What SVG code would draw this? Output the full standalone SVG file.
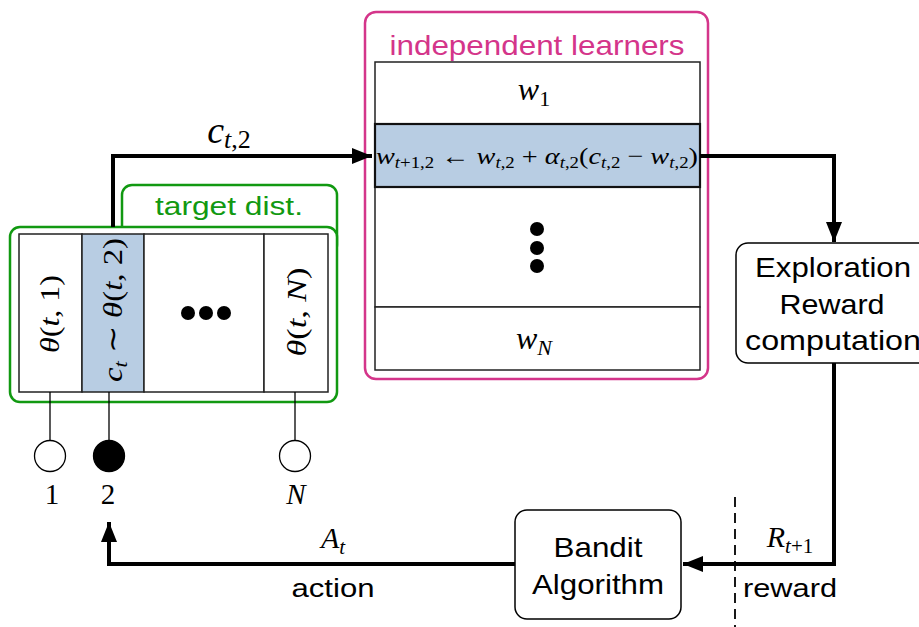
<svg xmlns="http://www.w3.org/2000/svg" width="919" height="627" viewBox="0 0 919 627">
<style>
.sans{font-family:"Liberation Sans",Arial,Helvetica,sans-serif;fill:#000}
.math{font-family:"Liberation Serif","Times New Roman",serif;font-style:italic;fill:#000}
.rm{font-style:normal}
.cell{fill:#fff;stroke:#222;stroke-width:1.5}
.sel{fill:#b8cde3;stroke:#222;stroke-width:1.5}
.conn{fill:none;stroke:#000;stroke-width:4}
.thin{fill:none;stroke:#000;stroke-width:1.3}
.box{fill:#fff;stroke:#000;stroke-width:1.5}
</style>
<defs>
<marker id="ah" markerUnits="userSpaceOnUse" markerWidth="22" markerHeight="18" refX="20" refY="8" orient="auto">
<path d="M0,0 L20,8 L0,16 Z" fill="#000"/>
</marker>
</defs>
<rect width="919" height="627" fill="#fff"/>

<g id="target-dist">
<rect x="122" y="185" width="215" height="70" rx="10" fill="#fff" stroke="#119911" stroke-width="2.5"/>
<rect x="10" y="227" width="327" height="175" rx="10" fill="#fff" stroke="#119911" stroke-width="2.5"/>
<text class="sans" x="229" y="215" font-size="25" text-anchor="middle" style="fill:#119911" textLength="148" lengthAdjust="spacingAndGlyphs">target dist.</text>
<rect class="cell" x="19" y="234" width="63" height="158"/>
<rect class="sel" x="82" y="234" width="62" height="158"/>
<rect class="cell" x="144" y="234" width="120" height="158"/>
<rect class="cell" x="264" y="234" width="64" height="158"/>
<text class="math" transform="translate(59,314) rotate(-90)" font-size="28" text-anchor="middle" textLength="78" lengthAdjust="spacingAndGlyphs">θ<tspan class="rm">(</tspan>t<tspan class="rm">, 1)</tspan></text>
<text class="math" transform="translate(122,310) rotate(-90)" font-size="28" text-anchor="middle" textLength="144" lengthAdjust="spacingAndGlyphs">c<tspan font-size="19" dy="5">t</tspan><tspan class="rm" dy="-5"> ∼ </tspan>θ<tspan class="rm">(</tspan>t<tspan class="rm">, 2)</tspan></text>
<text class="math" transform="translate(306,312) rotate(-90)" font-size="28" text-anchor="middle" textLength="89" lengthAdjust="spacingAndGlyphs">θ<tspan class="rm">(</tspan>t<tspan class="rm">, </tspan>N<tspan class="rm">)</tspan></text>
<circle cx="188" cy="313" r="7"/>
<circle cx="206" cy="313" r="7"/>
<circle cx="224" cy="313" r="7"/>
</g>

<g id="arms">
<line class="thin" x1="50" y1="392" x2="50" y2="440"/>
<line class="thin" x1="109" y1="392" x2="109" y2="440"/>
<line class="thin" x1="295" y1="392" x2="295" y2="440"/>
<circle cx="50" cy="456" r="15.5" fill="#fff" stroke="#000" stroke-width="1.3"/>
<circle cx="109" cy="456" r="15.5" fill="#000" stroke="#000" stroke-width="1.3"/>
<circle cx="295" cy="456" r="15.5" fill="#fff" stroke="#000" stroke-width="1.3"/>
<text class="math rm" x="52" y="504" font-size="29" text-anchor="middle">1</text>
<text class="math rm" x="108" y="504" font-size="29" text-anchor="middle">2</text>
<text class="math" x="296" y="504" font-size="29" text-anchor="middle">N</text>
</g>

<g id="independent-learners">
<rect x="365" y="12" width="343" height="367" rx="11" fill="#fff" stroke="#d4358a" stroke-width="2.5"/>
<text class="sans" x="537" y="55" font-size="28" text-anchor="middle" style="fill:#d4358a" textLength="295" lengthAdjust="spacingAndGlyphs">independent learners</text>
<rect class="cell" x="375" y="62" width="325" height="62"/>
<rect class="cell" x="375" y="187" width="325" height="120"/>
<rect class="cell" x="375" y="307" width="325" height="63"/>
<rect x="375" y="124" width="325" height="63" fill="#b8cde3" stroke="#111" stroke-width="2.2"/>
<text class="math" x="534" y="100" font-size="32" text-anchor="middle">w<tspan class="rm" font-size="22" dy="6">1</tspan></text>
<text class="math" x="534" y="349" font-size="32" text-anchor="middle">w<tspan font-size="22" dy="6">N</tspan></text>
<text class="math" x="376" y="164" font-size="24" textLength="322" lengthAdjust="spacingAndGlyphs">w<tspan font-size="16" dy="4">t<tspan class="rm">+1,2</tspan></tspan><tspan class="rm" dy="-4"> ← </tspan>w<tspan font-size="16" dy="4">t<tspan class="rm">,2</tspan></tspan><tspan class="rm" dy="-4"> + </tspan>α<tspan font-size="16" dy="4">t<tspan class="rm">,2</tspan></tspan><tspan class="rm" dy="-4">(</tspan>c<tspan font-size="16" dy="4">t<tspan class="rm">,2</tspan></tspan><tspan class="rm" dy="-4"> − </tspan>w<tspan font-size="16" dy="4">t<tspan class="rm">,2</tspan></tspan><tspan class="rm" dy="-4">)</tspan></text>
<circle cx="537" cy="229" r="7"/>
<circle cx="537" cy="248" r="7"/>
<circle cx="537" cy="266" r="7"/>
</g>

<g id="exploration-reward">
<rect class="box" x="736" y="243" width="200" height="120" rx="12"/>
<text class="sans" x="833" y="277" font-size="28" text-anchor="middle" textLength="156" lengthAdjust="spacingAndGlyphs">Exploration</text>
<text class="sans" x="832" y="314" font-size="28" text-anchor="middle" textLength="105" lengthAdjust="spacingAndGlyphs">Reward</text>
<text class="sans" x="745" y="350" font-size="28" textLength="176" lengthAdjust="spacingAndGlyphs">computation</text>
</g>

<g id="bandit-algorithm">
<rect class="box" x="515" y="510" width="166" height="109" rx="12"/>
<text class="sans" x="598" y="557" font-size="28" text-anchor="middle" textLength="89" lengthAdjust="spacingAndGlyphs">Bandit</text>
<text class="sans" x="598" y="594" font-size="28" text-anchor="middle" textLength="132" lengthAdjust="spacingAndGlyphs">Algorithm</text>
</g>

<g id="connectors">
<polyline class="conn" points="113,227 113,156 372,156" marker-end="url(#ah)"/>
<polyline class="conn" points="700,156 834,156 834,242" marker-end="url(#ah)"/>
<polyline class="conn" points="834,363 834,564 683,564" marker-end="url(#ah)"/>
<polyline class="conn" points="515,564 109,564 109,522" marker-end="url(#ah)"/>
<line x1="735" y1="497" x2="735" y2="627" stroke="#000" stroke-width="1.8" stroke-dasharray="10,6"/>
<text class="math" x="229" y="143" font-size="38" text-anchor="middle">c<tspan font-size="26" dy="5">t<tspan class="rm">,2</tspan></tspan></text>
<text class="math" x="333" y="548" font-size="30" text-anchor="middle">A<tspan font-size="21" dy="6">t</tspan></text>
<text class="sans" x="333" y="597" font-size="26" text-anchor="middle" textLength="83" lengthAdjust="spacingAndGlyphs">action</text>
<text class="math" x="790" y="547" font-size="30" text-anchor="middle">R<tspan font-size="21" dy="6">t<tspan class="rm">+1</tspan></tspan></text>
<text class="sans" x="790" y="597" font-size="26" text-anchor="middle" textLength="94" lengthAdjust="spacingAndGlyphs">reward</text>
</g>
</svg>
